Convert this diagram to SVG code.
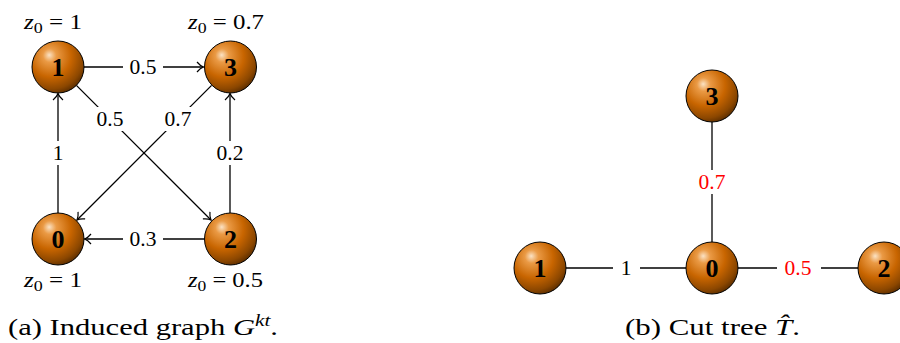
<svg xmlns="http://www.w3.org/2000/svg" width="900" height="343" viewBox="0 0 900 343">
<style>
.edge{stroke:#000;stroke-width:1.3;fill:none}
.arr{marker-end:url(#ah)}
.ball{fill:url(#orange);stroke:#000;stroke-width:1}
.num{font-family:"Liberation Serif","DejaVu Serif",serif;font-weight:bold;font-size:26px;text-anchor:middle;fill:#000}
.lbl{font-family:"Liberation Serif","DejaVu Serif",serif;font-size:21.5px;text-anchor:middle;fill:#000}
.red{fill:#ff0000}
.bg{fill:#fff}
.z{font-family:"Liberation Serif","DejaVu Serif",serif;font-size:21px;fill:#000}
.cap{font-family:"Liberation Serif","DejaVu Serif",serif;font-size:23px;fill:#000}
.it{font-style:italic}
</style>
<defs>
<radialGradient id="orange" cx="0.38" cy="0.32" r="0.72" fx="0.33" fy="0.27">
<stop offset="0" stop-color="#fbe2c4"/>
<stop offset="0.18" stop-color="#ea9a45"/>
<stop offset="0.55" stop-color="#c86500"/>
<stop offset="0.85" stop-color="#8c4700"/>
<stop offset="1" stop-color="#5a2d00"/>
</radialGradient>
<marker id="ah" markerWidth="13" markerHeight="13" refX="0" refY="0" viewBox="-7.5 -6.5 8.5 13" orient="auto" markerUnits="userSpaceOnUse">
<path d="M-6.5,-5 C-4,-2 -1.2,-0.4 0,0 C-1.2,0.4 -4,2 -6.5,5" fill="none" stroke="#000" stroke-width="1.2"/>
</marker>
</defs>

<g id="connectors">
<line class="edge arr" x1="84" y1="67" x2="203.5" y2="67"/>
<line class="edge arr" x1="76.4" y1="85.4" x2="211" y2="220"/>
<line class="edge arr" x1="211.6" y1="85.4" x2="77" y2="220"/>
<line class="edge arr" x1="58" y1="213" x2="58" y2="93.5"/>
<line class="edge arr" x1="230" y1="213" x2="230" y2="93.5"/>
<line class="edge arr" x1="204" y1="239" x2="84.5" y2="239"/>
<rect class="bg" x="123" y="55" width="40" height="24"/>
<text class="lbl" x="143" y="74">0.5</text>
<rect class="bg" x="94" y="107" width="33" height="24"/>
<text class="lbl" x="110" y="126">0.5</text>
<rect class="bg" x="161" y="107" width="34" height="24"/>
<text class="lbl" x="178" y="126">0.7</text>
<rect class="bg" x="48" y="141" width="20" height="24"/>
<text class="lbl" x="58" y="160">1</text>
<rect class="bg" x="212" y="141" width="36" height="24"/>
<text class="lbl" x="230" y="160">0.2</text>
<rect class="bg" x="123" y="227" width="40" height="24"/>
<text class="lbl" x="143" y="246">0.3</text>

<line class="edge" x1="712" y1="122" x2="712" y2="242"/>
<line class="edge" x1="566" y1="268" x2="686" y2="268"/>
<line class="edge" x1="738" y1="268" x2="858" y2="268"/>
<rect class="bg" x="693" y="170" width="38" height="24"/>
<text class="lbl red" x="712" y="189">0.7</text>
<rect class="bg" x="613" y="256" width="27" height="24"/>
<text class="lbl" x="626" y="275">1</text>
<rect class="bg" x="777" y="256" width="44" height="24"/>
<text class="lbl red" x="798" y="275">0.5</text>
</g>

<g id="n1"><circle class="ball" cx="58" cy="67" r="26"/><text class="num" x="58" y="76">1</text></g>
<g id="n3"><circle class="ball" cx="230.5" cy="67" r="26"/><text class="num" x="230.5" y="76">3</text></g>
<g id="n0"><circle class="ball" cx="58" cy="239" r="26"/><text class="num" x="58" y="248">0</text></g>
<g id="n2"><circle class="ball" cx="230.5" cy="239" r="26"/><text class="num" x="230.5" y="248">2</text></g>

<g id="z-labels">
<text class="z" x="24" y="29" textLength="58" lengthAdjust="spacingAndGlyphs"><tspan class="it">z</tspan><tspan font-size="15" dy="4">0</tspan><tspan dy="-4"> = 1</tspan></text>
<text class="z" x="188" y="29" textLength="76" lengthAdjust="spacingAndGlyphs"><tspan class="it">z</tspan><tspan font-size="15" dy="4">0</tspan><tspan dy="-4"> = 0.7</tspan></text>
<text class="z" x="24" y="287" textLength="58" lengthAdjust="spacingAndGlyphs"><tspan class="it">z</tspan><tspan font-size="15" dy="4">0</tspan><tspan dy="-4"> = 1</tspan></text>
<text class="z" x="188" y="287" textLength="75" lengthAdjust="spacingAndGlyphs"><tspan class="it">z</tspan><tspan font-size="15" dy="4">0</tspan><tspan dy="-4"> = 0.5</tspan></text>
</g>

<g id="t3"><circle class="ball" cx="712" cy="96" r="26"/><text class="num" x="712" y="105">3</text></g>
<g id="t0"><circle class="ball" cx="712" cy="268" r="26"/><text class="num" x="712" y="277">0</text></g>
<g id="t1"><circle class="ball" cx="540" cy="268" r="26"/><text class="num" x="540" y="277">1</text></g>
<g id="t2"><circle class="ball" cx="884" cy="268" r="26"/><text class="num" x="884" y="277">2</text></g>

<text class="cap" x="8" y="335" textLength="270" lengthAdjust="spacingAndGlyphs">(a) Induced graph <tspan class="it">G</tspan><tspan class="it" font-size="16" dy="-9">kt</tspan><tspan dy="9">.</tspan></text>
<text class="cap" x="625" y="335" textLength="175" lengthAdjust="spacingAndGlyphs">(b) Cut tree <tspan class="it">T̂</tspan>.</text>
</svg>
